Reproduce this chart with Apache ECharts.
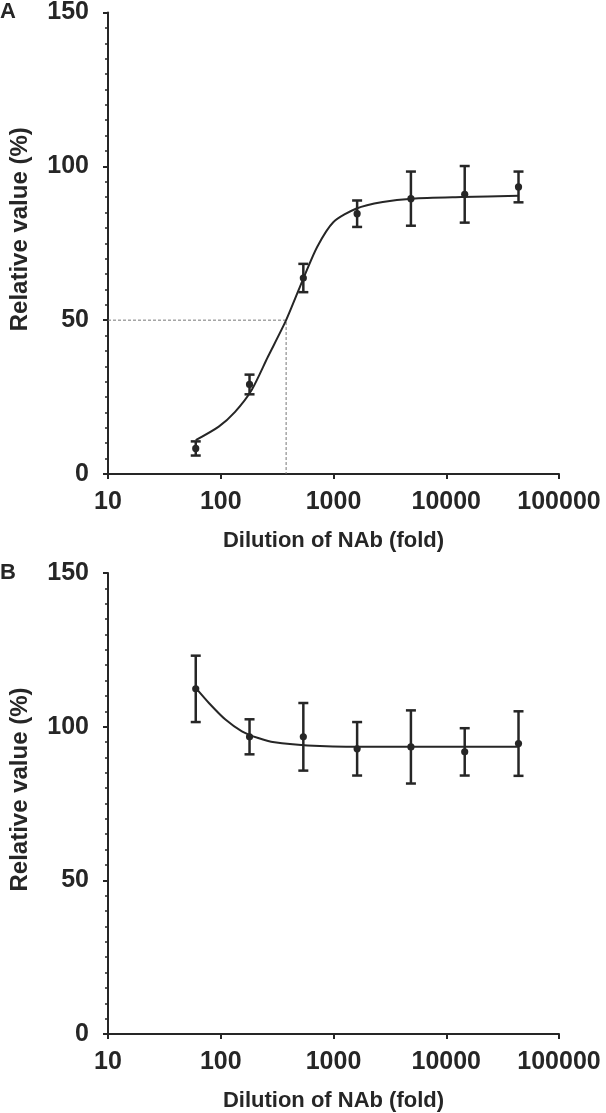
<!DOCTYPE html>
<html>
<head>
<meta charset="utf-8">
<script src="https://cdn.jsdelivr.net/npm/echarts@6/dist/echarts.min.js"></script>
<style>
  html, body { margin: 0; padding: 0; background: #fff; }
  #chart { width: 606px; height: 1113px; }
</style>
</head>
<body>
<div id="chart"></div>
<script>
// dilution steps (fold), 3-fold series
const dilutions = [60, 180, 540, 1620, 4860, 14580, 43740];

// panel A: mean and error (+/-)
const meanA = [8.3, 29.1, 63.7, 84.6, 89.5, 90.9, 93.3];
const errA = [2.3, 3.2, 4.6, 4.3, 8.8, 9.2, 5.0];

// panel B: mean and error (+/-)
const meanB = [112.3, 96.7, 96.7, 92.8, 93.4, 91.8, 94.5];
const errB = [10.8, 5.7, 11.0, 8.7, 11.9, 7.7, 10.5];

// fitted curves
const fitAx = [60, 96, 134, 188, 262, 380, 548, 716, 1000, 1600, 2735, 5000, 13650, 43740];
const fitAy = [11.0, 15.4, 20.2, 27.3, 38.1, 50.0, 64.1, 73.8, 81.9, 86.3, 88.4, 89.5, 90.0, 90.4];
const fitBx = [60, 78.5, 110, 154, 215, 300, 586, 1715, 5000, 43740];
const fitBy = [112.6, 107.7, 102.3, 98.5, 96.3, 94.9, 93.9, 93.5, 93.5, 93.5];

// 50% neutralization guide (panel A)
const ic50 = 380;
const halfLevel = 50;

const yTicks = { min: 0, max: 150, interval: 50 };
const xRange = { min: 10, max: 100000 };

const ink = '#262626';
const font = 'Liberation Sans, Arial, Helvetica, sans-serif';

const zip = (xs, ys) => xs.map((x, i) => [x, ys[i]]);
const errData = (means, errs) => dilutions.map((d, i) => [d, means[i] - errs[i], means[i] + errs[i], means[i]]);

function errorBars(params, api) {
  const x = api.value(0);
  const lo = api.coord([x, api.value(1)]);
  const hi = api.coord([x, api.value(2)]);
  const mid = api.coord([x, api.value(3)]);
  const cap = 5;
  const style = { stroke: ink, lineWidth: 2.5 };
  return {
    type: 'group',
    children: [
      { type: 'line', shape: { x1: lo[0], y1: lo[1], x2: hi[0], y2: hi[1] }, style },
      { type: 'line', shape: { x1: hi[0] - cap, y1: hi[1], x2: hi[0] + cap, y2: hi[1] }, style },
      { type: 'line', shape: { x1: lo[0] - cap, y1: lo[1], x2: lo[0] + cap, y2: lo[1] }, style },
      { type: 'circle', shape: { cx: mid[0], cy: mid[1], r: 3.6 }, style: { fill: ink } }
    ]
  };
}

function makeX(idx) {
  return {
    type: 'log', logBase: 10, gridIndex: idx,
    min: xRange.min, max: xRange.max,
    name: 'Dilution of NAb (fold)',
    nameLocation: 'middle', nameGap: 56,
    nameTextStyle: { fontSize: 22, fontWeight: 'bold', color: ink, fontFamily: font },
    axisLine: { lineStyle: { color: ink, width: 2 } },
    axisTick: { show: true, length: 5, lineStyle: { color: ink, width: 2 } },
    minorTick: { show: false },
    splitLine: { show: false },
    axisLabel: {
      fontSize: 25, fontWeight: 'bold', color: ink, fontFamily: font, margin: 16,
      showMinLabel: true, showMaxLabel: true,
      formatter: v => String(Math.round(v))
    }
  };
}

function makeY(idx) {
  return {
    type: 'value', gridIndex: idx,
    min: yTicks.min, max: yTicks.max, interval: yTicks.interval,
    name: 'Relative value (%)',
    nameLocation: 'middle', nameGap: 76,
    nameTextStyle: { fontSize: 24, fontWeight: 'bold', color: ink, fontFamily: font, padding: [0, 0, 0, 28] },
    axisLine: { show: true, lineStyle: { color: ink, width: 2 } },
    axisTick: { show: true, length: 5, lineStyle: { color: ink, width: 2 } },
    minorTick: { show: true, splitNumber: 10, length: 3, lineStyle: { color: ink, width: 1.5 } },
    splitLine: { show: false },
    axisLabel: { fontSize: 25, fontWeight: 'bold', color: ink, fontFamily: font, margin: 19 }
  };
}

const chart = echarts.init(document.getElementById('chart'));

const option = {
  backgroundColor: '#fff',
  animation: false,
  title: [
    { text: 'A', left: 0, top: 1, padding: 0, textStyle: { fontSize: 22, fontWeight: 'bold', color: ink, fontFamily: font } },
    { text: 'B', left: 0, top: 562, padding: 0, textStyle: { fontSize: 22, fontWeight: 'bold', color: ink, fontFamily: font } }
  ],
  grid: [
    { left: 100, top: 12, width: 459, height: 462 },
    { left: 100, top: 573, width: 459, height: 462 }
  ],
  xAxis: [makeX(0), makeX(1)],
  yAxis: [makeY(0), makeY(1)],
  series: [
    {
      type: 'line', xAxisIndex: 0, yAxisIndex: 0,
      data: [[xRange.min, halfLevel], [ic50, halfLevel], [ic50, 0]],
      symbol: 'none',
      lineStyle: { color: '#777', width: 1, type: [3, 2] }
    },
    {
      type: 'line', xAxisIndex: 0, yAxisIndex: 0,
      data: zip(fitAx, fitAy), smooth: 0.25, symbol: 'none',
      lineStyle: { color: ink, width: 2 }
    },
    {
      type: 'custom', xAxisIndex: 0, yAxisIndex: 0,
      data: errData(meanA, errA), renderItem: errorBars
    },
    {
      type: 'line', xAxisIndex: 1, yAxisIndex: 1,
      data: zip(fitBx, fitBy), smooth: 0.25, symbol: 'none',
      lineStyle: { color: ink, width: 2 }
    },
    {
      type: 'custom', xAxisIndex: 1, yAxisIndex: 1,
      data: errData(meanB, errB), renderItem: errorBars
    }
  ]
};

chart.setOption(option);
</script>
</body>
</html>
